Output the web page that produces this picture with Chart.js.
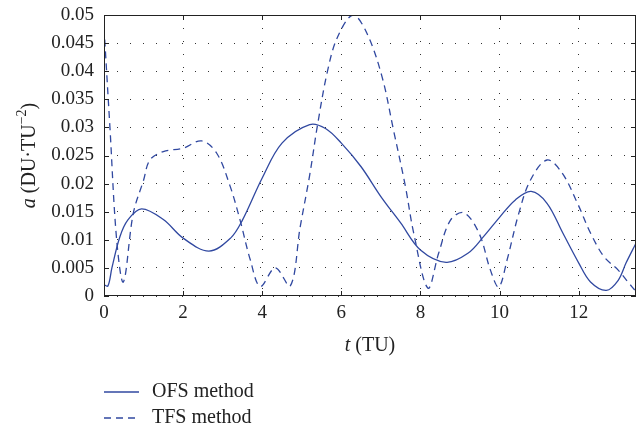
<!DOCTYPE html>
<html lang="en">
<head>
    <meta charset="UTF-8">
    <title>OFS vs TFS thrust acceleration</title>
    <script src="https://cdn.jsdelivr.net/npm/chart.js"></script>
    <style>
        body { margin: 0; background: #fff; }
    </style>
</head>
<body>
    <canvas id="myChart" width="643" height="432"></canvas>

    <script>
        // data
        const ofsT = [0, 0.1, 0.2, 0.4, 0.6, 0.95, 1.5, 2.0, 2.65, 3.2, 3.5, 4.0, 4.5, 5.2, 5.6, 6.0, 6.5, 7.0, 7.5, 8.0, 8.65, 9.2, 9.6, 10.0, 10.4, 10.8, 11.2, 11.6, 12.0, 12.3, 12.7, 13.0, 13.2, 13.45];
        const ofsA = [0.0020, 0.0018, 0.0050, 0.0105, 0.0135, 0.0155, 0.0136, 0.0103, 0.0080, 0.0103, 0.0135, 0.0210, 0.0272, 0.0305, 0.0298, 0.0272, 0.0230, 0.0177, 0.0130, 0.0082, 0.0060, 0.0076, 0.0106, 0.0140, 0.0171, 0.0186, 0.0165, 0.0112, 0.0059, 0.0025, 0.0010, 0.0028, 0.0059, 0.0094];

        const tfsT = [0, 0.15, 0.32, 0.49, 0.74, 1.0, 1.16, 1.5, 2.0, 2.47, 2.85, 3.19, 3.44, 3.7, 3.95, 4.33, 4.71, 4.96, 5.2, 5.4, 5.65, 5.9, 6.3, 6.65, 7.03, 7.32, 7.62, 7.83, 8.19, 8.46, 8.76, 9.1, 9.48, 9.77, 9.98, 10.19, 10.49, 10.78, 11.2, 11.58, 11.97, 12.3, 12.64, 13.0, 13.27, 13.45];
        const tfsA = [0.0478, 0.0300, 0.0100, 0.0025, 0.0147, 0.0206, 0.0242, 0.0257, 0.0263, 0.0276, 0.0254, 0.0195, 0.0135, 0.0064, 0.0017, 0.0050, 0.0018, 0.0123, 0.0215, 0.0305, 0.0400, 0.0460, 0.0500, 0.0467, 0.0390, 0.0295, 0.0195, 0.0112, 0.0014, 0.0076, 0.0135, 0.0148, 0.0112, 0.0046, 0.0016, 0.0064, 0.0148, 0.0206, 0.0242, 0.0219, 0.0165, 0.0112, 0.0070, 0.0046, 0.0023, 0.0008];

        const seriesNames = ['OFS method', 'TFS method'];
        const xTicks = [0, 2, 4, 6, 8, 10, 12];
        const tMax = 13.45;
        const aMax = 0.05;
        const aStep = 0.005;

        const LINE = '#3048a0';
        const FONT = "'Liberation Serif', 'DejaVu Serif', serif";

        const toPoints = (xs, ys) => xs.map((x, i) => ({ x: x, y: ys[i] }));

        // frame + inward ticks + axis titles + legend
        const decorPlugin = {
            id: 'decorPlugin',
            afterDraw: (chart) => {
                const { ctx, chartArea: ca, scales: { x, y } } = chart;
                ctx.save();
                ctx.strokeStyle = '#222';
                ctx.lineWidth = 1;
                ctx.setLineDash([]);
                ctx.strokeRect(ca.left + 0.5, ca.top + 0.5, ca.right - ca.left - 1, ca.bottom - ca.top - 1);

                ctx.beginPath();
                xTicks.forEach(v => {
                    const px = Math.round(x.getPixelForValue(v)) + 0.5;
                    ctx.moveTo(px, ca.bottom);
                    ctx.lineTo(px, ca.bottom - 5);
                    ctx.moveTo(px, ca.top);
                    ctx.lineTo(px, ca.top + 5);
                });
                for (let v = 0; v <= aMax + 1e-9; v += aStep) {
                    const py = Math.round(y.getPixelForValue(v)) + 0.5;
                    ctx.moveTo(ca.left, py);
                    ctx.lineTo(ca.left + 5, py);
                    ctx.moveTo(ca.right, py);
                    ctx.lineTo(ca.right - 5, py);
                }
                ctx.stroke();

                ctx.fillStyle = '#222';
                ctx.textBaseline = 'middle';

                // x title: t (TU)
                const cx = (ca.left + ca.right) / 2;
                ctx.font = 'italic 20px ' + FONT;
                const wT = ctx.measureText('t').width;
                ctx.font = '20px ' + FONT;
                const wRest = ctx.measureText(' (TU)').width;
                let sx = cx - (wT + wRest) / 2;
                ctx.textAlign = 'left';
                ctx.font = 'italic 20px ' + FONT;
                ctx.fillText('t', sx, 346);
                ctx.font = '20px ' + FONT;
                ctx.fillText(' (TU)', sx + wT, 346);

                // y title: a (DU·TU^-2), rotated
                ctx.save();
                ctx.translate(30, (ca.top + ca.bottom) / 2);
                ctx.rotate(-Math.PI / 2);
                const parts = [
                    { t: 'a', f: 'italic 20px ' + FONT, dy: 0 },
                    { t: ' (DU\u00B7TU', f: '20px ' + FONT, dy: 0 },
                    { t: '\u22122', f: '14px ' + FONT, dy: -8 },
                    { t: ')', f: '20px ' + FONT, dy: 0 }
                ];
                let total = 0;
                parts.forEach(p => { ctx.font = p.f; p.w = ctx.measureText(p.t).width; total += p.w; });
                let px = -total / 2;
                parts.forEach(p => {
                    ctx.font = p.f;
                    ctx.fillText(p.t, px, p.dy);
                    px += p.w;
                });
                ctx.restore();

                // legend
                const legY = [392, 418];
                chart.data.datasets.forEach((ds, i) => {
                    ctx.save();
                    ctx.strokeStyle = ds.borderColor;
                    ctx.lineWidth = 1.3;
                    ctx.setLineDash(ds.borderDash || []);
                    ctx.beginPath();
                    ctx.moveTo(104, legY[i]);
                    ctx.lineTo(139, legY[i]);
                    ctx.stroke();
                    ctx.restore();
                    ctx.font = '20px ' + FONT;
                    ctx.textAlign = 'left';
                    ctx.fillText(ds.label, 152, legY[i]);
                });
                ctx.restore();
            }
        };

        const data = {
            datasets: [
                {
                    label: seriesNames[0],
                    data: toPoints(ofsT, ofsA),
                    borderColor: LINE,
                    borderWidth: 1.3,
                    pointRadius: 0,
                    showLine: true,
                    tension: 0.35
                },
                {
                    label: seriesNames[1],
                    data: toPoints(tfsT, tfsA),
                    borderColor: LINE,
                    borderWidth: 1.3,
                    borderDash: [7, 5],
                    pointRadius: 0,
                    showLine: true,
                    tension: 0.35
                }
            ]
        };

        const config = {
            type: 'scatter',
            data: data,
            options: {
                responsive: false,
                animation: false,
                devicePixelRatio: 1,
                layout: { padding: { top: 15, right: 7, left: 0, bottom: 0 } },
                plugins: {
                    legend: { display: false },
                    tooltip: { enabled: false }
                },
                scales: {
                    x: {
                        type: 'linear',
                        min: 0,
                        max: tMax,
                        afterFit: (scale) => {
                            scale.height = 136;
                            scale.paddingLeft = 0;
                            scale.paddingRight = 0;
                        },
                        afterBuildTicks: (scale) => {
                            scale.ticks = xTicks.map(v => ({ value: v }));
                        },
                        ticks: {
                            padding: 6,
                            color: '#222',
                            font: { family: FONT, size: 19 }
                        },
                        grid: { color: '#333', lineWidth: 1, drawTicks: false },
                        border: { display: false, dash: [1, 12] }
                    },
                    y: {
                        min: 0,
                        max: aMax,
                        afterFit: (scale) => {
                            scale.width = 104;
                            scale.paddingTop = 0;
                            scale.paddingBottom = 0;
                        },
                        ticks: {
                            stepSize: aStep,
                            padding: 10,
                            color: '#222',
                            font: { family: FONT, size: 19 },
                            callback: (v) => String(parseFloat(v.toFixed(3)))
                        },
                        grid: { color: '#333', lineWidth: 1, drawTicks: false },
                        border: { display: false, dash: [1, 12] }
                    }
                }
            },
            plugins: [decorPlugin]
        };

        const ctx = document.getElementById('myChart').getContext('2d');
        new Chart(ctx, config);
    </script>
</body>
</html>
